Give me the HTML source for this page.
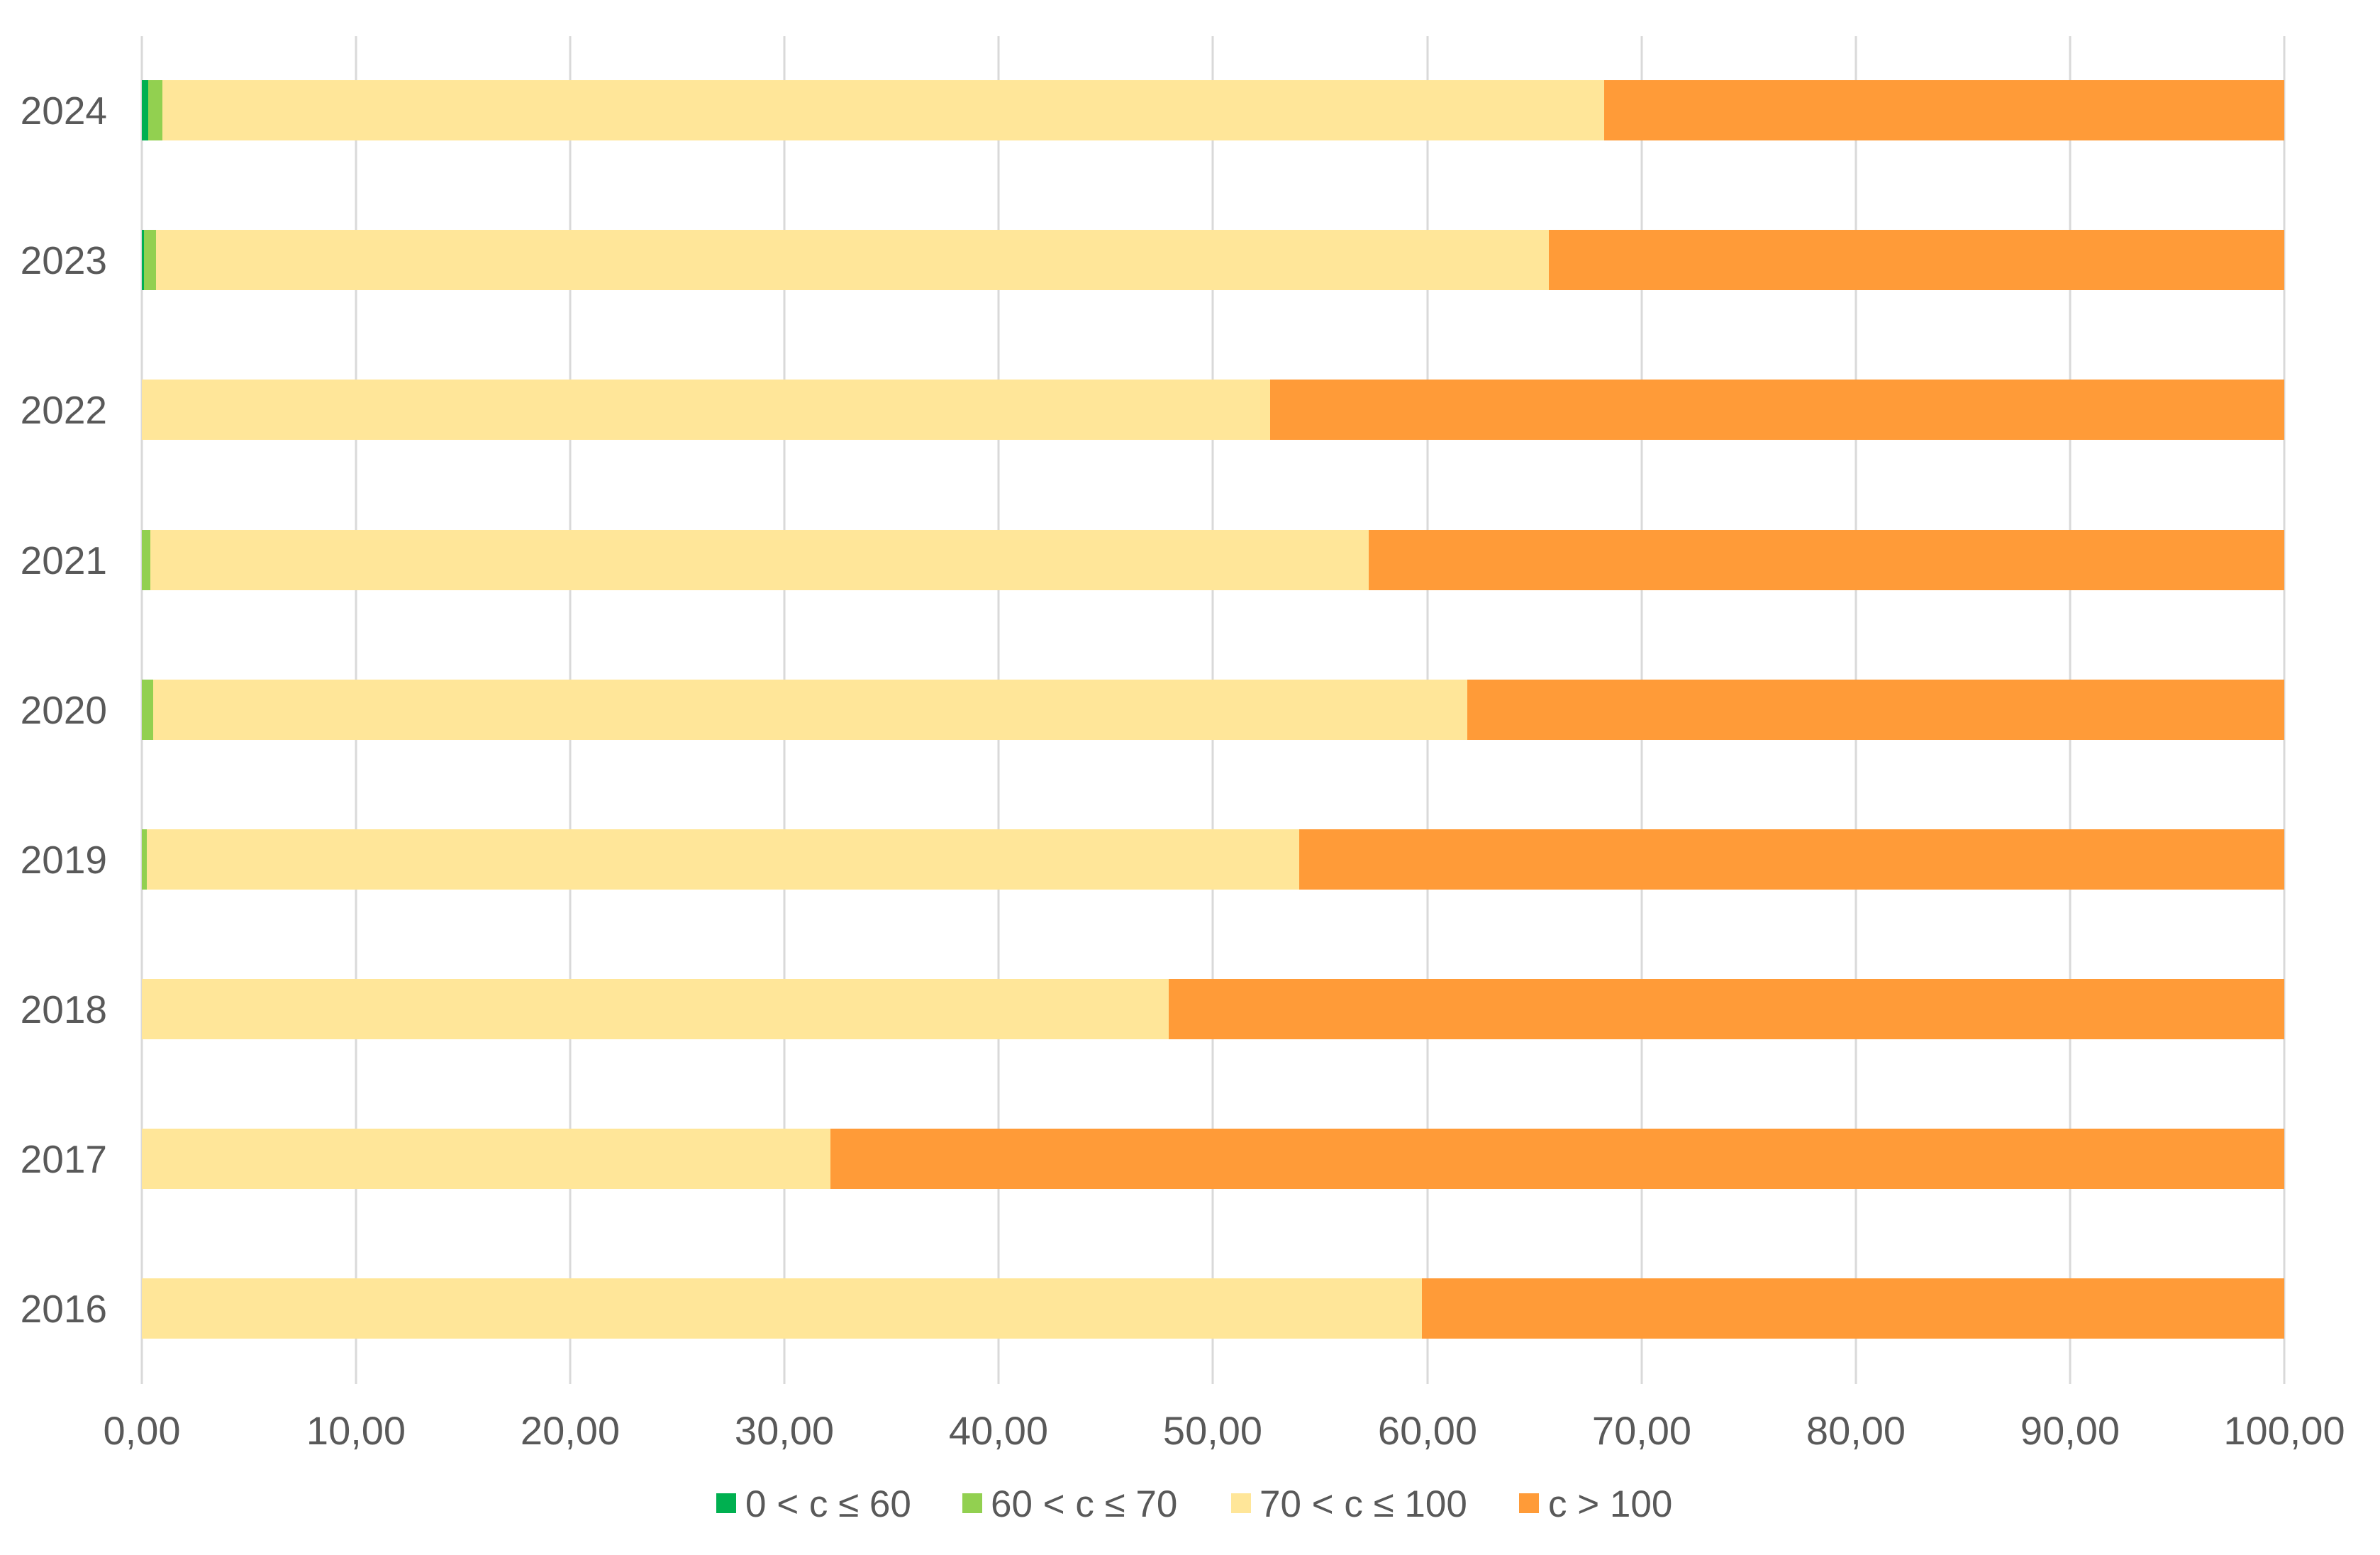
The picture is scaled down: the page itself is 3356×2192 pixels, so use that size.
<!DOCTYPE html>
<html><head><meta charset="utf-8"><style>html,body{margin:0;padding:0;background:#fff}svg{display:block}</style></head>
<body>
<svg width="3356" height="2192" viewBox="0 0 3356 2192" xmlns="http://www.w3.org/2000/svg" font-family="Liberation Sans, sans-serif" fill="#595959">
<g stroke="#D9D9D9" stroke-width="3">
<line x1="200" y1="51" x2="200" y2="1951"/>
<line x1="502" y1="51" x2="502" y2="1951"/>
<line x1="804" y1="51" x2="804" y2="1951"/>
<line x1="1106" y1="51" x2="1106" y2="1951"/>
<line x1="1408" y1="51" x2="1408" y2="1951"/>
<line x1="1710" y1="51" x2="1710" y2="1951"/>
<line x1="2013" y1="51" x2="2013" y2="1951"/>
<line x1="2315" y1="51" x2="2315" y2="1951"/>
<line x1="2617" y1="51" x2="2617" y2="1951"/>
<line x1="2919" y1="51" x2="2919" y2="1951"/>
<line x1="3221" y1="51" x2="3221" y2="1951"/>
</g>
<g>
<rect x="200" y="113" width="3021" height="85" fill="#FF9B38"/>
<rect x="200" y="113" width="2062" height="85" fill="#FFE699"/>
<rect x="200" y="113" width="29" height="85" fill="#92D050"/>
<rect x="200" y="113" width="9" height="85" fill="#00B050"/>
<rect x="200" y="324" width="3021" height="85" fill="#FF9B38"/>
<rect x="200" y="324" width="1984" height="85" fill="#FFE699"/>
<rect x="200" y="324" width="20" height="85" fill="#92D050"/>
<rect x="200" y="324" width="3" height="85" fill="#00B050"/>
<rect x="200" y="535" width="3021" height="85" fill="#FF9B38"/>
<rect x="200" y="535" width="1591" height="85" fill="#FFE699"/>
<rect x="200" y="747" width="3021" height="85" fill="#FF9B38"/>
<rect x="200" y="747" width="1730" height="85" fill="#FFE699"/>
<rect x="200" y="747" width="12" height="85" fill="#92D050"/>
<rect x="200" y="958" width="3021" height="85" fill="#FF9B38"/>
<rect x="200" y="958" width="1869" height="85" fill="#FFE699"/>
<rect x="200" y="958" width="16" height="85" fill="#92D050"/>
<rect x="200" y="1169" width="3021" height="85" fill="#FF9B38"/>
<rect x="200" y="1169" width="1632" height="85" fill="#FFE699"/>
<rect x="200" y="1169" width="7" height="85" fill="#92D050"/>
<rect x="200" y="1380" width="3021" height="85" fill="#FF9B38"/>
<rect x="200" y="1380" width="1448" height="85" fill="#FFE699"/>
<rect x="200" y="1591" width="3021" height="85" fill="#FF9B38"/>
<rect x="200" y="1591" width="971" height="85" fill="#FFE699"/>
<rect x="200" y="1802" width="3021" height="85" fill="#FF9B38"/>
<rect x="200" y="1802" width="1805" height="85" fill="#FFE699"/>
</g>
<g font-size="55" text-anchor="end">
<text x="151" y="175">2024</text>
<text x="151" y="386">2023</text>
<text x="151" y="597">2022</text>
<text x="151" y="809">2021</text>
<text x="151" y="1020">2020</text>
<text x="151" y="1231">2019</text>
<text x="151" y="1442">2018</text>
<text x="151" y="1653">2017</text>
<text x="151" y="1864">2016</text>
</g>
<g font-size="56" text-anchor="middle">
<text x="200" y="2036">0,00</text>
<text x="502" y="2036">10,00</text>
<text x="804" y="2036">20,00</text>
<text x="1106" y="2036">30,00</text>
<text x="1408" y="2036">40,00</text>
<text x="1710" y="2036">50,00</text>
<text x="2013" y="2036">60,00</text>
<text x="2315" y="2036">70,00</text>
<text x="2617" y="2036">80,00</text>
<text x="2919" y="2036">90,00</text>
<text x="3221" y="2036">100,00</text>
</g>
<g font-size="53">
<rect x="1010" y="2105" width="28" height="28" fill="#00B050"/>
<text x="1051" y="2138">0 &lt; c ≤ 60</text>
<rect x="1357" y="2105" width="28" height="28" fill="#92D050"/>
<text x="1397" y="2138">60 &lt; c ≤ 70</text>
<rect x="1736" y="2105" width="28" height="28" fill="#FFE699"/>
<text x="1776" y="2138">70 &lt; c ≤ 100</text>
<rect x="2142" y="2105" width="28" height="28" fill="#FF9B38"/>
<text x="2183" y="2138">c &gt; 100</text>
</g>
</svg>
</body></html>
